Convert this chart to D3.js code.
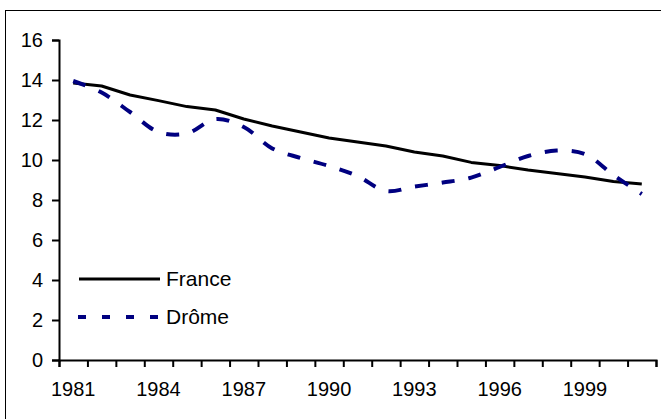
<!DOCTYPE html>
<html>
<head>
<meta charset="utf-8">
<script src="https://cdn.jsdelivr.net/npm/d3@7"></script>
<style>
  html, body { margin: 0; padding: 0; background: #fff; }
  svg { display: block; }
  text { font-family: "Liberation Sans", Arial, sans-serif; fill: #000; }
</style>
</head>
<body>
<svg id="chart" width="661" height="419"></svg>
<script>
// Years on the category axis
const years = d3.range(1981, 2002);
// Rate for France (solid line)
const france = [13.85, 13.7, 13.25, 12.97, 12.67, 12.5, 12.05, 11.7, 11.4, 11.1,
                10.9, 10.7, 10.4, 10.2, 9.88, 9.72, 9.5, 9.33, 9.15, 8.92, 8.8];
// Rate for the Drôme department (dashed line)
const drome = [13.95, 13.37, 12.4, 11.4, 11.33, 12.05, 11.65, 10.58, 10.1, 9.7,
               9.2, 8.45, 8.67, 8.87, 9.12, 9.65, 10.2, 10.47, 10.3, 9.25, 8.3];
const yTicks = [0, 2, 4, 6, 8, 10, 12, 14, 16];
const labelYears = [1981, 1984, 1987, 1990, 1993, 1996, 1999];

const svg = d3.select("#chart");
const plotLeft = 59, plotRight = 656, plotTop = 40, plotBottom = 360;
const fontSize = "20px";

// Outer frame
svg.append("rect")
  .attr("x", 5.5).attr("y", 10.5)
  .attr("width", 700).attr("height", 450)
  .attr("fill", "none").attr("stroke", "#000").attr("stroke-width", 1);

const xBand = d3.scaleBand().domain(years).range([plotLeft, plotRight]);
const xEdge = d3.scaleLinear().domain([0, years.length]).range([plotLeft, plotRight]);
const y = d3.scaleLinear().domain([0, 16]).range([plotBottom, plotTop]);

// Y axis
const yAxis = svg.append("g")
  .attr("transform", `translate(${plotLeft},0)`)
  .call(d3.axisLeft(y).tickValues(yTicks).tickSize(7).tickPadding(9));
yAxis.selectAll("text").style("font-size", fontSize);

// X axis: ticks at category boundaries
svg.append("g")
  .attr("transform", `translate(0,${plotBottom})`)
  .call(d3.axisBottom(xEdge).tickValues(d3.range(0, years.length + 1)).tickSize(7).tickFormat(""));

// X labels every third year, centred on the category
const xLab = svg.append("g")
  .attr("transform", `translate(0,${plotBottom})`)
  .call(d3.axisBottom(xBand).tickValues(labelYears).tickSize(0).tickPadding(22));
xLab.selectAll("text").style("font-size", fontSize);
xLab.select(".domain").remove();

svg.selectAll(".domain, .tick line")
  .attr("stroke", "#000").attr("stroke-width", 2);

const cx = (d, i) => xBand(years[i]) + xBand.bandwidth() / 2;

// France
svg.append("path")
  .datum(france)
  .attr("fill", "none").attr("stroke", "#000").attr("stroke-width", 3)
  .attr("stroke-linejoin", "round")
  .attr("d", d3.line().x(cx).y(d => y(d)));

// Drôme
svg.append("path")
  .datum(drome)
  .attr("fill", "none").attr("stroke", "#000080").attr("stroke-width", 4)
  .attr("stroke-dasharray", "13,14")
  .attr("d", d3.line().x(cx).y(d => y(d)).curve(d3.curveCatmullRom.alpha(0.5)));

// Legend
const legend = svg.append("g");
legend.append("line")
  .attr("x1", 79).attr("x2", 160).attr("y1", 279).attr("y2", 279)
  .attr("stroke", "#000").attr("stroke-width", 3);
legend.append("text").attr("x", 166).attr("y", 286).style("font-size", "21px").text("France");
legend.append("line")
  .attr("x1", 78).attr("x2", 160).attr("y1", 317).attr("y2", 317)
  .attr("stroke", "#000080").attr("stroke-width", 4)
  .attr("stroke-dasharray", "8,16");
legend.append("text").attr("x", 166).attr("y", 324).style("font-size", "21px").text("Drôme");
</script>
</body>
</html>
